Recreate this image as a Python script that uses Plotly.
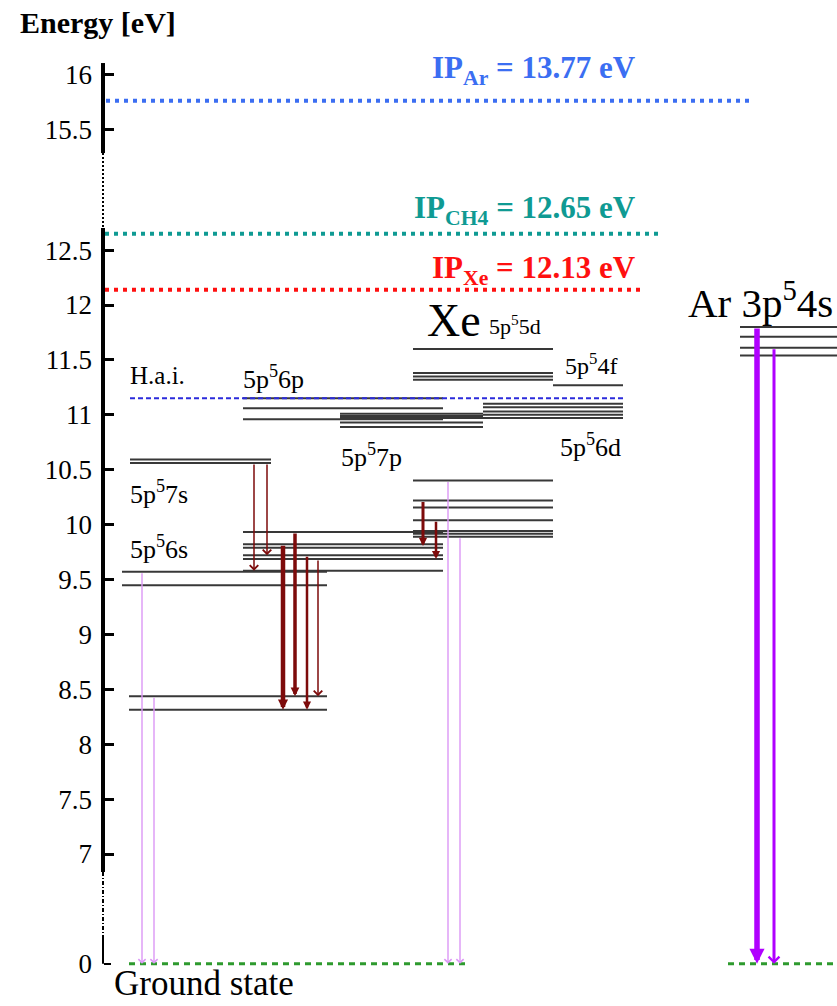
import plotly.graph_objects as go

# ---------------- data: energies in eV ----------------
xe_6s_low = [8.315, 8.437]
xe_6s_high = [9.447, 9.570]
xe_7s = [10.562, 10.593]
xe_6p = [9.580, 9.686, 9.721, 9.789, 9.821, 9.933]
xe_6p_high = [10.96, 11.06, 11.15]
xe_7p = [10.89, 10.93, 10.97, 10.99, 11.01]
xe_5d_low = [9.890, 9.917, 9.943, 10.039, 10.157, 10.219, 10.401]
xe_5d_high = [11.32, 11.35, 11.38, 11.60]
xe_4f = [11.27]
xe_6d = [10.97, 11.00, 11.03, 11.07, 11.10]
ar_4s = [11.54, 11.61, 11.71, 11.80]
hai_level = [11.15]
ground_level = [0.0]

ip_names = ["Ar", "CH4", "Xe"]
ip_levels = [15.76, 12.65, 12.14]
ip_texts = ["13.77", "12.65", "12.13"]

# transitions (upper level, lower level)
maroon_upper = [10.562, 10.562, 9.821, 9.933, 9.721, 9.686, 10.219, 10.039]
maroon_lower = [9.580, 9.721, 8.315, 8.437, 8.315, 8.437, 9.805, 9.686]
pink_upper = [9.570, 8.437, 10.401, 9.890]
pink_lower = [0.0, 0.0, 0.0, 0.0]
ar_upper = [11.80, 11.61]
ar_lower = [0.0, 0.0]

tick_energies = [0, 7, 7.5, 8, 8.5, 9, 9.5, 10, 10.5, 11, 11.5, 12, 12.5, 15.5, 16]
tick_labels = ["0", "7", "7.5", "8", "8.5", "9", "9.5", "10", "10.5", "11",
               "11.5", "12", "12.5", "15.5", "16"]


# ---------------- broken energy axis ----------------
def to_axis(e):
    if e < 3:
        return e + 6.0
    if e > 14:
        return e - 1.9
    return e


Y_RANGE = [5.616, 14.778]
X_RANGE = [0, 837]
AXIS_X = 103

SERIF = "Liberation Serif, Times New Roman, serif"
LEVEL_COLOR = "#383838"
MAROON = "#7d0b0b"
PINK = "#dc98f6"
PURPLE = "#b000ff"
IP_COLORS = ["#3b6ef2", "#0f9a93", "#ff1010"]

fig = go.Figure()


def add_levels(energies, x0, x1, color=LEVEL_COLOR, width=2, dash=None, yaxis="y"):
    xs, ys = [], []
    for e in energies:
        xs += [x0, x1, None]
        ys += [to_axis(e), to_axis(e), None]
    fig.add_trace(go.Scatter(x=xs, y=ys, mode="lines", yaxis=yaxis,
                             line=dict(color=color, width=width, dash=dash),
                             hoverinfo="skip", showlegend=False))


# axis line with breaks (axis units)
axis_segments = [
    (14.204, 13.384, 4, None),
    (13.384, 12.701, 2, "2px,2px"),
    (12.701, 6.836, 4, None),
    (6.836, 6.244, 2, "4px,2px,1px,2px"),
    (6.244, 6.0, 2, None),
]
for y0, y1, w, d in axis_segments:
    fig.add_trace(go.Scatter(x=[AXIS_X, AXIS_X], y=[y0, y1], mode="lines",
                             line=dict(color="black", width=w, dash=d),
                             hoverinfo="skip", showlegend=False))

# ionisation potentials
ip_spans = [(106, 750), (105, 662), (105, 643)]
for lvl, (x0, x1), c in zip(ip_levels, ip_spans, IP_COLORS):
    add_levels([lvl], x0, x1, color=c, width=4, dash="4px,5px")

# energy levels
add_levels(xe_6s_low, 129, 327)
add_levels(xe_6s_high, 122, 327)
add_levels(xe_7s, 130, 271)
add_levels(xe_6p, 243, 443)
add_levels(xe_6p_high, 243, 443)
add_levels(xe_7p, 340, 483)
add_levels(xe_5d_low, 413, 553)
add_levels(xe_5d_high, 413, 553)
add_levels(xe_4f, 553, 623)
add_levels(xe_6d, 483, 623)
add_levels(ar_4s, 740, 837)
add_levels(hai_level, 130, 623, color="#2b2bdb", width=2, dash="5px,3px")
add_levels(ground_level, 129, 470, color="#2e9a2e", width=3, dash="6px,5px", yaxis="y2")
add_levels(ground_level, 728, 837, color="#2e9a2e", width=3, dash="6px,5px", yaxis="y2")

annotations = []


def arrow(x, e_top, e_bot, color, width, head, size):
    annotations.append(dict(
        x=x, y=to_axis(e_bot), ax=x, ay=to_axis(e_top),
        xref="x", yref="y", axref="x", ayref="y",
        text="", showarrow=True, arrowcolor=color, arrowwidth=width,
        arrowhead=head, arrowsize=size, standoff=0, startstandoff=0))


maroon_x = [254, 267, 283, 295, 307, 318, 423, 436]
maroon_w = [1.5, 1.5, 4.5, 3.5, 2.5, 1.5, 3.0, 2.5]
maroon_head = [4, 4, 2, 2, 2, 4, 2, 2]
maroon_size = [1.1, 1.1, 0.45, 0.5, 0.65, 1.1, 0.55, 0.65]
for x, up, lo, w, h, s in zip(maroon_x, maroon_upper, maroon_lower, maroon_w, maroon_head, maroon_size):
    arrow(x, up, lo, MAROON, w, h, s)

pink_x = [142, 154, 448, 460]
for x, up, lo in zip(pink_x, pink_upper, pink_lower):
    arrow(x, up, lo, PINK, 1.4, 4, 1.0)

ar_x = [757, 774]
ar_w = [5.5, 3.0]
ar_head = [2, 4]
ar_size = [0.55, 0.7]
for x, up, lo, w, h, s in zip(ar_x, ar_upper, ar_lower, ar_w, ar_head, ar_size):
    arrow(x, up, lo, PURPLE, w, h, s)


def label(text, x, y, size, color="black", anchor="left", bold=False, yanchor="middle"):
    if bold:
        text = "<b>" + text + "</b>"
    annotations.append(dict(x=x, y=y, xref="x", yref="y", text=text, showarrow=False,
                            xanchor=anchor, yanchor=yanchor,
                            font=dict(family=SERIF, size=size, color=color)))


label("Energy [eV]", 18, 14.577, 30, bold=True)
ip_label_y = [14.14, 12.865, 12.32]
for name, txt, y, c in zip(ip_names, ip_texts, ip_label_y, IP_COLORS):
    label("IP<sub>%s</sub> = %s eV" % (name, txt), 638, y, 31, color=c, anchor="right", bold=True)

label("H.a.i.", 128, 11.36, 25)
label("5p<sup>5</sup>6p", 241, 11.34, 26)
label("5p<sup>5</sup>7s", 128, 10.29, 26)
label("5p<sup>5</sup>6s", 128, 9.79, 26)
label("5p<sup>5</sup>7p", 339, 10.63, 26)
label("Xe", 425, 11.86, 46)
label("5p<sup>5</sup>5d", 487, 11.82, 22)
label("5p<sup>5</sup>4f", 563, 11.46, 24)
label("5p<sup>5</sup>6d", 558, 10.72, 26)
label("Ar 3p<sup>5</sup>4s", 686, 12.05, 41)
label("Ground state", 112, 5.628, 35, yanchor="bottom")

axis_common = dict(range=Y_RANGE, anchor="free", position=AXIS_X / 837, side="left",
                   showgrid=False, zeroline=False, showline=False, ticks="inside",
                   tickcolor="black", fixedrange=True,
                   tickfont=dict(family=SERIF, size=27, color="black"),
                   ticklabelstandoff=11)

main_ticks = [e for e in tick_energies if e > 0]
main_text = [t for e, t in zip(tick_energies, tick_labels) if e > 0]
zero_ticks = [e for e in tick_energies if e == 0]
zero_text = [t for e, t in zip(tick_energies, tick_labels) if e == 0]

fig.update_layout(
    width=837, height=1006,
    margin=dict(l=0, r=0, t=0, b=0),
    paper_bgcolor="white", plot_bgcolor="white",
    showlegend=False, hovermode=False,
    xaxis=dict(range=X_RANGE, visible=False, fixedrange=True),
    yaxis=dict(tickvals=[to_axis(e) for e in main_ticks], ticktext=main_text,
               ticklen=10, tickwidth=3, **axis_common),
    yaxis2=dict(tickvals=[to_axis(e) for e in zero_ticks], ticktext=zero_text,
                overlaying="y", ticklen=7, tickwidth=2, **axis_common),
    annotations=annotations,
)

fig.write_html("out.html")
